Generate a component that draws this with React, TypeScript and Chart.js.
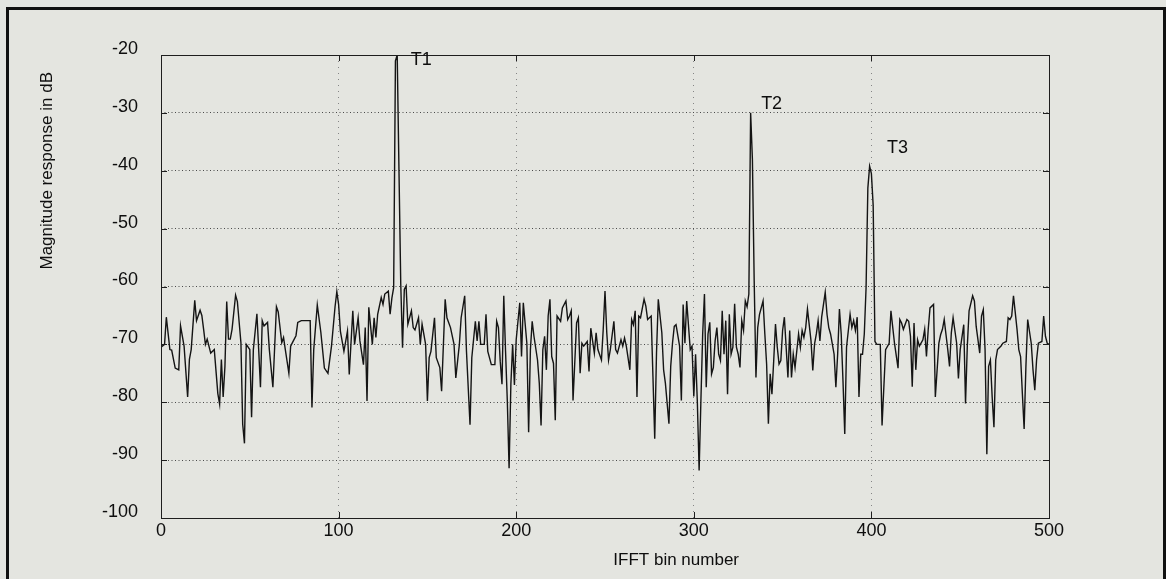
import { useEffect, useRef } from 'react';
import { Chart, registerables } from 'chart.js';

Chart.register(...registerables);

// IFFT output magnitude: [bin number, magnitude in dB]
const spectrumPoints: [number, number][] = [
  [0, -70.5], [2, -70], [3, -65.3], [5, -70.9], [6, -71], [8, -74.1], [10, -74.4], [11, -66.8], [13, -70.3], [15, -79.1],
  [16, -72.6], [17, -70.9], [19, -62.4], [20, -65.9], [22, -64.1], [23, -65], [24, -67.4], [25, -70], [26, -69.1], [28, -71.5],
  [30, -70.9], [32, -78.5], [33, -80.3], [34, -72.6], [35, -79.1], [36, -73.8], [37, -62.6], [38, -69.1], [39, -69.1], [40, -67.4],
  [42, -61.5], [43, -62.6], [45, -69.7], [46, -83.8], [47, -87.1], [48, -70], [50, -70.9], [51, -82.6], [52, -70.9], [54, -64.7],
  [55, -70.9], [56, -77.4], [57, -65.9], [58, -66.8], [60, -66.2], [61, -70.9], [63, -77.4], [65, -63.5], [66, -64.4], [68, -69.7],
  [69, -68.8], [70, -70.9], [72, -75], [73, -70.3], [74, -69.7], [76, -68.5], [77, -66.2], [79, -65.9], [81, -65.9], [84, -65.9],
  [85, -80.9], [86, -70.9], [88, -63.2], [90, -67.9], [92, -74.1], [94, -75], [96, -70.3], [98, -63.5], [99, -60.9],
  [100, -63.1], [101, -67.7], [103, -71.2], [105, -67.7], [106, -75.2], [108, -64.2], [109, -70], [111, -65.4], [112, -69.4], [114, -73.5],
  [115, -67.1], [116, -79.8], [117, -63.6], [119, -70], [120, -65.4], [121, -68.8], [122, -64.8], [124, -61.9], [125, -63.1], [126, -61.3],
  [128, -60.8], [129, -64.8], [130, -62], [131, -60.2], [132, -21], [133, -20], [134, -40], [135, -59.6], [136, -70.6], [137, -60.5],
  [138, -59.9], [139, -66.5], [141, -64.2], [142, -67.1], [143, -67.5], [145, -65.4], [146, -70], [147, -66.5], [149, -70], [150, -79.8],
  [151, -72.3], [152, -71.2], [154, -65.4], [155, -72.3], [157, -74], [158, -78.1], [160, -62.2], [161, -65.4], [163, -67.1], [165, -70],
  [166, -75.8], [168, -70], [169, -65.4], [171, -61.6], [172, -71.2], [174, -83.9], [175, -72.3], [177, -66], [178, -69.4], [179, -66],
  [180, -70], [182, -70], [183, -64.8], [184, -71.2], [186, -73.5], [188, -73.5], [189, -66], [190, -67.1], [191, -72.9], [192, -76.9],
  [193, -61.6], [194, -71.2], [195, -79.8], [196, -91.4], [197, -76.9], [198, -70], [199, -77],
  [200, -69.2], [202, -62.8], [203, -72.1], [204, -62.8], [206, -69.8], [207, -85.2], [208, -70.9], [209, -66], [210, -68.6], [212, -72.7],
  [213, -76.7], [214, -84], [215, -70.9], [216, -68.6], [217, -74.4], [218, -65.1], [219, -62.2], [220, -72.1], [221, -73.3], [222, -83.1],
  [223, -65.1], [225, -66], [226, -63.7], [228, -62.5], [229, -65.7], [230, -65.1], [231, -64.2], [232, -79.7], [234, -66.3], [235, -65.4],
  [236, -75], [237, -69.8], [238, -70.3], [240, -69.5], [241, -74.7], [242, -67.2], [244, -71.5], [245, -68], [246, -70.9], [248, -72.7],
  [249, -67.4], [250, -60.8], [251, -68], [252, -72.7], [253, -70.9], [255, -66], [256, -70.9], [257, -71.5], [259, -69.2], [260, -70.3],
  [261, -68.9], [262, -70.3], [264, -74.4], [265, -65.7], [266, -66.6], [267, -64.2], [268, -79.1], [269, -65.1], [270, -65.4], [272, -62.2],
  [273, -63.4], [274, -65.7], [276, -65.1], [277, -75.6], [278, -86.3], [279, -71.5], [280, -62.2], [282, -68], [283, -74.4], [284, -76.7],
  [286, -83.7], [287, -73.8], [288, -69.8], [289, -66.9], [290, -66.6], [292, -70.3], [293, -79.7], [294, -63.1], [295, -69.8], [296, -62.5],
  [298, -70.9], [299, -70.3],
  [300, -79], [301, -71.7], [302, -80], [303, -91.8], [304, -79.7], [305, -68.2], [306, -61.3], [307, -77.4], [308, -68.2], [309, -66.2],
  [310, -75.1], [311, -74], [312, -69.4], [313, -67.1], [314, -71.7], [315, -72.8], [316, -64.2], [317, -71.7], [318, -65.9], [319, -78.6],
  [320, -64.8], [321, -71.7], [322, -70.5], [323, -63], [324, -70.5], [325, -71.7], [326, -74], [327, -65.9], [328, -67.6], [329, -62.5],
  [330, -63.5], [331, -61.3], [332, -30], [333, -38], [334, -59], [335, -75.7], [336, -67.1], [337, -64.8], [339, -62.5], [340, -68.2],
  [341, -73.4], [342, -83.7], [343, -75.1], [344, -78.6], [345, -72.8], [346, -66.5], [347, -70.5], [348, -73.4], [349, -72.8], [350, -67.6],
  [351, -65.3], [352, -70.5], [353, -75.7], [354, -67.6], [355, -75.7], [356, -71.7], [357, -74], [359, -68.2], [360, -70.5], [361, -67.6],
  [362, -68.8], [363, -67.1], [364, -63.9], [366, -69.4], [367, -74.5], [368, -69.9], [369, -68.2], [370, -65.9], [371, -69.4], [372, -65.3],
  [374, -61], [375, -64.8], [376, -67.1], [377, -68.2], [379, -71.7], [380, -77.4], [381, -71.7], [382, -63.9], [383, -68.2], [384, -76.3],
  [385, -85.5], [386, -70.5], [388, -64.8], [389, -67.1], [390, -65.9], [391, -67.6], [392, -65.3], [393, -79.1], [394, -71.7], [395, -71.7],
  [396, -68.2], [397, -60.2], [398, -43], [399, -39.2],
  [400, -40.5], [401, -46], [402, -69.5], [403, -70], [405, -70], [406, -84], [408, -70.9], [410, -69.8], [411, -64.2], [413, -69.8],
  [415, -74.1], [416, -65.7], [417, -66.3], [418, -67.4], [420, -65.7], [421, -66], [422, -68.6], [423, -77.3], [424, -66.3], [425, -74.4],
  [426, -69.2], [427, -70.3], [429, -69.2], [430, -67.4], [431, -72.1], [432, -67.4], [433, -63.7], [435, -63.1], [436, -79.1], [438, -69.8],
  [439, -68.3], [440, -67.4], [441, -65.7], [443, -70.9], [444, -73.8], [445, -68], [446, -65.4], [448, -69.8], [449, -75.9], [450, -70.9],
  [452, -66.6], [453, -80.2], [454, -70.3], [455, -64.2], [457, -61.6], [458, -62.5], [459, -66.9], [461, -71.5], [462, -65.1], [463, -64],
  [464, -70.9], [465, -89], [466, -73.8], [467, -72.7], [468, -79.1], [469, -84.3], [470, -72.7], [471, -70.9], [473, -70.3], [474, -69.8],
  [476, -69.5], [477, -65.4], [478, -65.7], [479, -65.1], [480, -61.6], [482, -67.4], [483, -70.9], [484, -72.1], [485, -78.5], [486, -84.6],
  [487, -73.8], [488, -65.7], [490, -69.8], [491, -74.4], [492, -77.9], [493, -72.7], [494, -69.8], [496, -69.5], [497, -65.1], [498, -68.6],
  [499, -69.8], [500, -70],
];

const xTickValues = [0, 100, 200, 300, 400, 500];
const yTickValues = [-20, -30, -40, -50, -60, -70, -80, -90, -100];

// Target markers: names, bins and peak levels
const targetNames = ['T1', 'T2', 'T3'];
const targetBins = [133, 332, 399];
const targetDb = [-20, -30, -39.2];

const xTitle = 'IFFT bin number';
const yTitle = 'Magnitude response in dB';

const W = 1166;
const H = 579;
const BG = '#e4e5e0';
const INK = '#0e0e0e';
const FONT = '"Liberation Sans", Arial, Helvetica, sans-serif';

// Label placement relative to each peak (px)
const targetLabelShift: [number, number][] = [[24, 5], [21, -9], [28, -18]];

const framePlugin = {
  id: 'frameAndLabels',
  afterDraw(chart: any) {
    const { ctx, chartArea } = chart;
    const xs = chart.scales.x;
    const ys = chart.scales.y;
    const { left, right, top, bottom } = chartArea;
    ctx.save();
    // axes box
    ctx.strokeStyle = '#1e1e1e';
    ctx.lineWidth = 1;
    ctx.setLineDash([]);
    ctx.strokeRect(Math.round(left) + 0.5, Math.round(top) + 0.5, Math.round(right - left), Math.round(bottom - top));
    // inward tick marks on all four sides
    const tl = 6;
    ctx.beginPath();
    xTickValues.forEach((v) => {
      const px = Math.round(xs.getPixelForValue(v)) + 0.5;
      ctx.moveTo(px, bottom);
      ctx.lineTo(px, bottom - tl);
      ctx.moveTo(px, top);
      ctx.lineTo(px, top + tl);
    });
    yTickValues.forEach((v) => {
      const py = Math.round(ys.getPixelForValue(v)) + 0.5;
      ctx.moveTo(left, py);
      ctx.lineTo(left + tl, py);
      ctx.moveTo(right, py);
      ctx.lineTo(right - tl, py);
    });
    ctx.stroke();

    ctx.fillStyle = INK;
    ctx.font = `18px ${FONT}`;
    // peak markers
    ctx.textAlign = 'center';
    ctx.textBaseline = 'middle';
    targetNames.forEach((name, i) => {
      const px = xs.getPixelForValue(targetBins[i]) + targetLabelShift[i][0];
      const py = ys.getPixelForValue(targetDb[i]) + targetLabelShift[i][1];
      ctx.fillText(name, px, py);
    });
    // axis titles
    ctx.font = `17px ${FONT}`;
    ctx.textAlign = 'right';
    ctx.textBaseline = 'alphabetic';
    ctx.fillText(xTitle, 739, 565);
    ctx.translate(47, 72);
    ctx.rotate(-Math.PI / 2);
    ctx.textAlign = 'right';
    ctx.textBaseline = 'middle';
    ctx.fillText(yTitle, 0, 0);
    ctx.restore();
  },
};

export default function App() {
  const canvasRef = useRef<HTMLCanvasElement | null>(null);

  useEffect(() => {
    document.body.style.margin = '0';
    const canvas = canvasRef.current;
    if (!canvas) return;
    const chart = new Chart(canvas, {
      type: 'line',
      data: {
        datasets: [
          {
            data: spectrumPoints.map(([x, y]) => ({ x, y })),
            borderColor: '#141414',
            borderWidth: 1.4,
            pointRadius: 0,
            tension: 0,
            fill: false,
          },
        ],
      },
      options: {
        animation: false,
        responsive: false,
        devicePixelRatio: 1,
        events: [],
        layout: { padding: { left: 0, right: W - 1049, top: 55, bottom: 0 } },
        plugins: { legend: { display: false }, tooltip: { enabled: false } },
        scales: {
          x: {
            type: 'linear',
            min: 0,
            max: 500,
            afterBuildTicks: (scale: any) => {
              scale.ticks = xTickValues.map((value) => ({ value }));
            },
            afterFit: (scale: any) => {
              scale.height = H - 518;
            },
            ticks: { color: INK, font: { family: FONT, size: 18 }, padding: 2, maxRotation: 0 },
            grid: { color: '#858585', lineWidth: 1, drawTicks: false },
            border: { display: false, dash: [1, 5] },
          },
          y: {
            type: 'linear',
            min: -100,
            max: -20,
            afterBuildTicks: (scale: any) => {
              scale.ticks = yTickValues.map((value) => ({ value }));
            },
            afterFit: (scale: any) => {
              scale.width = 161;
            },
            ticks: { color: INK, font: { family: FONT, size: 18 }, padding: 23, labelOffset: -6 },
            grid: { color: '#4a4a4a', lineWidth: 1, drawTicks: false },
            border: { display: false, dash: [1, 2.5] },
          },
        },
      },
      plugins: [framePlugin],
    });
    return () => chart.destroy();
  }, []);

  return (
    <div style={{ position: 'fixed', left: 0, top: 0, width: W, height: H, background: BG, overflow: 'hidden' }}>
      <canvas ref={canvasRef} width={W} height={H} style={{ position: 'absolute', left: 0, top: 0, width: W, height: H }} />
      <div
        style={{
          position: 'absolute',
          left: 6,
          top: 7,
          width: W - 6,
          height: H + 40,
          boxSizing: 'border-box',
          border: '3px solid #111',
          pointerEvents: 'none',
        }}
      />
    </div>
  );
}
